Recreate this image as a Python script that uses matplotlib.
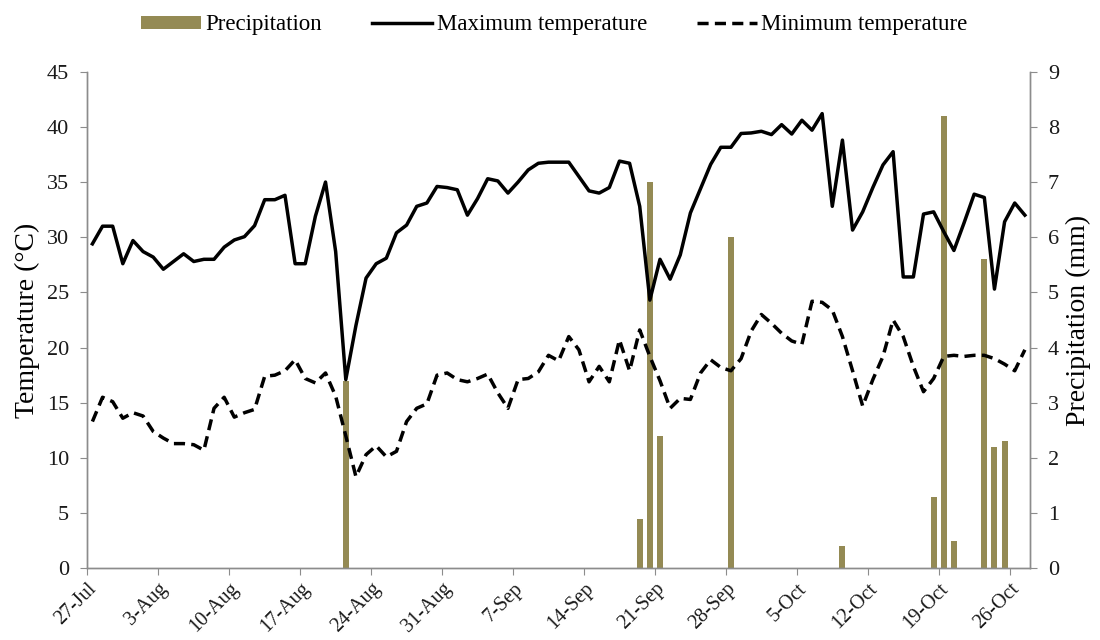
import matplotlib
matplotlib.use("Agg")
import matplotlib.pyplot as plt
from matplotlib.patches import Patch
from matplotlib.lines import Line2D
import numpy as np

plt.rcParams["font.family"] = ["Liberation Serif", "DejaVu Serif"]

# daily series, 27 Jul .. 27 Oct
max_temp = [29.4, 31.0, 31.0, 27.6, 29.7, 28.7, 28.2, 27.1, 27.8, 28.5,
            27.8, 28.0, 28.0, 29.1, 29.75, 30.05, 31.05, 33.4, 33.4, 33.8,
            27.6, 27.6, 31.9, 35.0, 28.7, 17.1, 22.0, 26.3, 27.6, 28.1,
            30.4, 31.1, 32.8, 33.1, 34.6, 34.5, 34.3, 32.0, 33.5, 35.3,
            35.1, 34.0, 35.0, 36.1, 36.7, 36.8, 36.8, 36.8, 35.5, 34.2,
            34.0, 34.5, 36.9, 36.7, 32.8, 24.3, 28.0, 26.2, 28.4, 32.2,
            34.4, 36.6, 38.15, 38.15, 39.4, 39.45, 39.6, 39.3, 40.2, 39.35,
            40.6, 39.7, 41.2, 32.8, 38.8, 30.65, 32.3, 34.5, 36.55, 37.75,
            26.4, 26.4, 32.1, 32.3, 30.5, 28.8, 31.3, 33.9, 33.6, 25.3,
            31.4, 33.1, 32.0]
min_temp = [13.3, 15.5, 15.1, 13.6, 14.1, 13.8, 12.4, 11.8, 11.3, 11.3,
            11.2, 10.7, 14.5, 15.5, 13.7, 14.1, 14.4, 17.4, 17.5, 17.9,
            18.9, 17.2, 16.8, 17.7, 15.6, 12.0, 8.3, 10.3, 11.1, 10.1,
            10.6, 13.3, 14.5, 14.9, 17.5, 17.7, 17.1, 16.9, 17.2, 17.6,
            15.9, 14.5, 17.1, 17.2, 17.8, 19.3, 18.8, 21.0, 19.8, 16.9,
            18.3, 16.9, 20.7, 17.9, 21.6, 19.2, 17.0, 14.5, 15.4, 15.3,
            17.7, 18.9, 18.2, 17.9, 19.0, 21.5, 23.0, 22.2, 21.3, 20.6,
            20.3, 24.2, 24.1, 23.4, 21.0, 17.9, 14.7, 17.1, 19.2, 22.5,
            21.0, 18.3, 16.0, 17.2, 19.2, 19.3, 19.2, 19.3, 19.3, 19.0,
            18.5, 17.9, 19.8]

# rainy days (day index from 27 Jul) and amounts
rain_day = [25, 54, 55, 56, 63, 74, 83, 84, 85, 88, 89, 90]
rain_mm = [3.4, 0.9, 7.0, 2.4, 6.0, 0.4, 1.3, 8.2, 0.5, 5.6, 2.2, 2.3]

tick_day = [0, 7, 14, 21, 28, 35, 42, 49, 56, 63, 70, 77, 84, 91]
tick_label = ["27-Jul", "3-Aug", "10-Aug", "17-Aug", "24-Aug", "31-Aug", "7-Sep",
              "14-Sep", "21-Sep", "28-Sep", "5-Oct", "12-Oct", "19-Oct", "26-Oct"]

BAR = "#948a54"
GREY = "#8c8c8c"
LW = 2.5
DASH = (3.2, 1.8)

days = np.arange(len(max_temp)) + 0.5

fig = plt.figure(figsize=(11, 6.4), dpi=100)
ax = fig.add_axes([0.0794, 0.112, 0.8569, 0.776])
ax2 = ax.twinx()

ax2.bar(np.array(rain_day) + 0.5, rain_mm, width=0.6, color=BAR, zorder=1)
ax.plot(days, max_temp, color="black", lw=LW)
ax.plot(days, min_temp, color="black", lw=LW, dashes=DASH)

# keep temperature lines above the rainfall bars
ax.set_zorder(ax2.get_zorder() + 1)
ax.patch.set_visible(False)

ax.set_xlim(0, 93)
ax.set_ylim(0, 45)
ax.set_yticks(range(0, 46, 5))
ax2.set_ylim(0, 9)
ax2.set_yticks(range(0, 10))
ax.set_xticks(tick_day)
ax.set_xticklabels(tick_label, rotation=45, ha="right", rotation_mode="anchor")

for a in (ax, ax2):
    a.spines["top"].set_visible(False)
    for s in ("left", "right", "bottom"):
        a.spines[s].set_color(GREY)
        a.spines[s].set_linewidth(1.0)
    a.tick_params(axis="both", direction="out", length=5, color=GREY,
                  labelsize=16, labelcolor="#1a1a1a")
ax.tick_params(axis="x", pad=3, labelsize=14.5)
ax.tick_params(axis="y", pad=8)
ax2.tick_params(axis="y", pad=8)

ax.set_ylabel("Temperature (°C)", fontsize=20, labelpad=5)
ax2.set_ylabel("Precipitation (mm)", fontsize=20, labelpad=5)

handles = [Patch(facecolor=BAR, edgecolor="none"),
           Line2D([], [], color="black", lw=LW),
           Line2D([], [], color="black", lw=LW, dashes=DASH)]
fig.legend(handles, ["Precipitation", "Maximum temperature", "Minimum temperature"],
           loc="center", bbox_to_anchor=(0.504, 0.961), ncol=3, frameon=False,
           fontsize=16.5, handlelength=2.6, handleheight=0.5, handletextpad=0.2,
           columnspacing=2.2)

fig.savefig("out.png", dpi=100)
